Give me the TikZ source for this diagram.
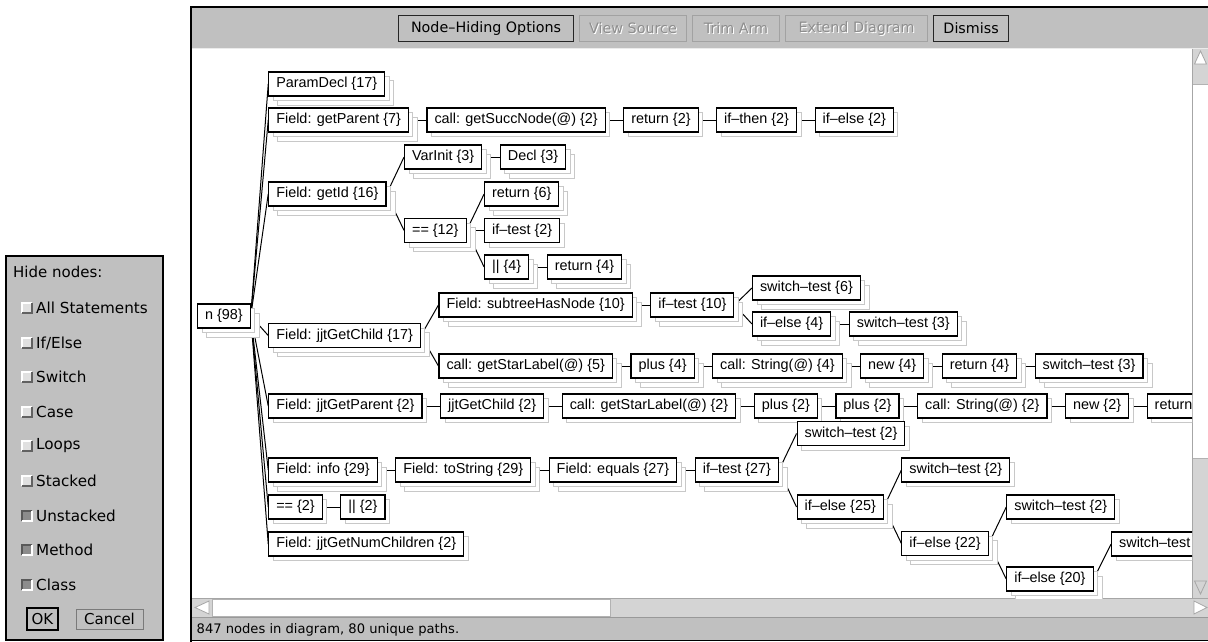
\documentclass[tikz,border=0pt]{standalone}
\usepackage{fontspec}
\setmainfont{DejaVu Sans}
\newfontfamily\treefont{Liberation Sans}
\newfontfamily\uifont{DejaVu Sans}
\usetikzlibrary{shadows,calc}

\definecolor{panelgray}{HTML}{C0C0C0}
\definecolor{trough}{HTML}{D4D4D4}
\definecolor{ghost}{HTML}{C8C8C8}
\definecolor{dimtext}{HTML}{8E8E8E}
\definecolor{edgedark}{HTML}{7A7A7A}
\definecolor{checkfill}{HTML}{8C8C8C}

\pgfdeclarelayer{back}
\pgfdeclarelayer{wires}
\pgfsetlayers{back,wires,main}

\tikzset{
  x=1pt, y=-1pt,
  treebox/.style={draw=black, line width=1.1pt, fill=white,
    font=\treefont\fontsize{14.4}{17}\selectfont,
    inner xsep=7.5pt, inner ysep=0pt, minimum height=24pt,
    text height=10.6pt, text depth=3.3pt, anchor=west},
  ghostcopy/.style={copy shadow={shadow xshift=#1, shadow yshift=-#1,
    draw=ghost, fill=white, line width=1pt}},
  pileone/.style={treebox, ghostcopy=4.5pt},
  piletwo/.style={treebox, ghostcopy=9pt, ghostcopy=4.5pt},
  wire/.style={draw=black, line width=1pt},
  uitext/.style={font=\uifont\fontsize{#1}{#1}\selectfont, inner sep=0pt},
  btnon/.style={draw=black!85, line width=1.2pt, fill=panelgray,
    uitext=14.3, anchor=north west, minimum height=26pt, text=black},
  btnoff/.style={draw=edgedark!70, line width=1pt, fill=panelgray,
    anchor=north west, minimum height=26pt},
  optlabel/.style={uitext=15.2, anchor=west, text=black},
}

% child node placed 17.5pt right of its parent's east side, at height #4
\newcommand\kid[5]{\path let \p1=(#3.east) in node[#1] (#2) at (\x1+17.5pt,-#4pt) {#5};}

% a greyed-out toolbar button with engraved label: name, left x, width, label
\newcommand\offbutton[4]{%
  \node[btnoff, minimum width=#3pt] (#1) at (#2,15) {};
  \node[uitext=14.3, text=white] (#1-lift) at ([shift={(1,1)}]#1.center) {#4};
  \node[uitext=14.3, text=dimtext] (#1-text) at (#1.center) {#4};
}

% one option row of the hiding panel: name, y, label, checked flag
\newcommand\optrow[4]{%
  \ifnum#4=1
    \fill[checkfill] (22,#2-5) rectangle (32,#2+5);
    \draw[black!65, line width=1.2pt] (22,#2+5) -- (22,#2-5) -- (32,#2-5);
    \draw[white, line width=1.2pt] (32,#2-5) -- (32,#2+5) -- (22,#2+5);
  \else
    \fill[black!12] (22,#2-5) rectangle (32,#2+5);
    \draw[white, line width=1.2pt] (22,#2+5) -- (22,#2-5) -- (32,#2-5);
    \draw[black!62, line width=1.6pt] (32,#2-5) -- (32,#2+5) -- (22,#2+5);
  \fi
  \node[optlabel] (#1) at (36,#2) {#3};
}

\begin{document}
\begin{tikzpicture}
\useasboundingbox (0,0) rectangle (1208,642);

% ---------- window chrome ----------
\begin{pgfonlayer}{back}
  \fill[white] (0,0) rectangle (1208,642);
  % toolbar, canvas, status bar
  \fill[panelgray] (191,8) rectangle (1208,48);
  \draw[black!8, line width=1pt] (191,48.5) -- (1208,48.5);
  \fill[white] (191,49) rectangle (1192,598);
  \fill[panelgray] (191,617) rectangle (1208,641);
  % vertical scrollbar
  \fill[trough] (1192,49) rectangle (1208,598);
  \draw[black!35, line width=1pt] (1192.5,49) -- (1192.5,598);
  \fill[white] (1193,84) rectangle (1208,458);
  \draw[black!30, line width=0.8pt] (1193,84) -- (1208,84) (1193,458) -- (1208,458);
  \draw[black!35, fill=white, line width=0.8pt] (1194.5,64) -- (1200.5,51) -- (1206.5,64) -- cycle;
  \draw[black!35, fill=trough, line width=0.8pt] (1194.5,581) -- (1200.5,594) -- (1206.5,581) -- cycle;
  % horizontal scrollbar
  \fill[trough] (191,598) rectangle (1208,617);
  \draw[black!35, line width=1pt] (191,598.5) -- (1208,598.5);
  \draw[black!30, fill=white, line width=0.8pt] (212,599) rectangle (610,616);
  \draw[black!35, fill=white, line width=0.8pt] (209,601) -- (195,607.5) -- (209,614) -- cycle;
  \draw[black!35, fill=white, line width=0.8pt] (1194,601) -- (1207,607.5) -- (1194,614) -- cycle;
  \draw[black!40, line width=1pt] (191,617.5) -- (1208,617.5);
  % outer frame
  \draw[black, line width=2pt] (191,642) -- (191,7) -- (1208,7);
  \draw[black, line width=1.5pt] (191,640.5) -- (1208,640.5);
\end{pgfonlayer}

% ---------- toolbar buttons ----------
\node[btnon, minimum width=175pt] (hideopts) at (398,15) {Node–Hiding Options};
\offbutton{viewsrc}{579}{107}{View Source}
\offbutton{trimarm}{692}{87}{Trim Arm}
\offbutton{extend}{785}{142}{Extend Diagram}
\node[btnon, minimum width=75pt] (dismiss) at (933,15) {Dismiss};

% ---------- status line ----------
\node[uitext=13.1, anchor=west] (status) at (196.5,630) {847 nodes in diagram, 80 unique paths.};

% ---------- node-hiding panel ----------
\draw[black, line width=1.6pt, fill=panelgray] (5.8,255.8) rectangle (163,640);
\node[uitext=15, anchor=west] (hidehead) at (13,272) {Hide nodes:};
\optrow{optall}{308}{All Statements}{0}
\optrow{optif}{343}{If/Else}{0}
\optrow{optsw}{377}{Switch}{0}
\optrow{optcase}{412}{Case}{0}
\optrow{optloop}{446}{Loops}{0}
\optrow{optstk}{481}{Stacked}{0}
\optrow{optunstk}{516}{Unstacked}{1}
\optrow{optmeth}{550}{Method}{1}
\optrow{optclass}{585}{Class}{1}
\node[draw=black, line width=1.3pt, fill=panelgray, uitext=15, minimum width=31pt, minimum height=22pt] (okbtn) at (42.5,619) {OK};
\node[draw=edgedark, line width=1pt, fill=panelgray, uitext=15, minimum width=67pt, minimum height=20pt] (cancelbtn) at (109.5,619) {Cancel};

% ---------- path tree ----------
\begin{scope}
\clip (192,49) rectangle (1192,598);
\node[piletwo] (n) at (197,316) {n \{98\}};
\kid{piletwo}{pd}{n}{84}{ParamDecl \{17\}}
\kid{piletwo}{gp}{n}{120}{Field: getParent \{7\}}
\kid{piletwo}{gi}{n}{194}{Field: getId \{16\}}
\kid{piletwo}{gc}{n}{335.5}{Field: jjtGetChild \{17\}}
\kid{pileone}{jp}{n}{406}{Field: jjtGetParent \{2\}}
\kid{piletwo}{fi}{n}{470}{Field: info \{29\}}
\kid{pileone}{eq}{n}{507}{== \{2\}}
\kid{pileone}{nc}{n}{544}{Field: jjtGetNumChildren \{2\}}
% getParent arm
\kid{pileone}{gsn}{gp}{120}{call: getSuccNode(@) \{2\}}
\kid{pileone}{rta}{gsn}{120}{return \{2\}}
\kid{pileone}{ith}{rta}{120}{if–then \{2\}}
\kid{pileone}{iel}{ith}{120}{if–else \{2\}}
% getId arm
\kid{piletwo}{vi}{gi}{157}{VarInit \{3\}}
\kid{piletwo}{dc}{vi}{157}{Decl \{3\}}
\kid{piletwo}{eqb}{gi}{230.5}{== \{12\}}
\kid{piletwo}{rtb}{eqb}{194}{return \{6\}}
\kid{pileone}{itb}{eqb}{230.5}{if–test \{2\}}
\kid{piletwo}{orb}{eqb}{267}{\textbar\textbar\ \{4\}}
\kid{piletwo}{rtc}{orb}{267}{return \{4\}}
% jjtGetChild arm
\kid{piletwo}{sh}{gc}{305}{Field: subtreeHasNode \{10\}}
\kid{piletwo}{itc}{sh}{305}{if–test \{10\}}
\kid{piletwo}{swa}{itc}{288}{switch–test \{6\}}
\kid{piletwo}{iea}{itc}{324}{if–else \{4\}}
\kid{piletwo}{swb}{iea}{324}{switch–test \{3\}}
\kid{piletwo}{gsa}{gc}{366}{call: getStarLabel(@) \{5\}}
\kid{piletwo}{pla}{gsa}{366}{plus \{4\}}
\kid{piletwo}{csa}{pla}{366}{call: String(@) \{4\}}
\kid{piletwo}{nwa}{csa}{366}{new \{4\}}
\kid{piletwo}{rtd}{nwa}{366}{return \{4\}}
\kid{piletwo}{swc}{rtd}{366}{switch–test \{3\}}
% jjtGetParent arm
\kid{pileone}{jc}{jp}{406}{jjtGetChild \{2\}}
\kid{pileone}{gsb}{jc}{406}{call: getStarLabel(@) \{2\}}
\kid{pileone}{plb}{gsb}{406}{plus \{2\}}
\kid{pileone}{plc}{plb}{406}{plus \{2\}}
\kid{pileone}{csb}{plc}{406}{call: String(@) \{2\}}
\kid{pileone}{nwb}{csb}{406}{new \{2\}}
\kid{pileone, minimum width=80pt, align=left, text width=65pt}{rte}{nwb}{406}{return}
% info arm
\kid{piletwo}{ts}{fi}{470}{Field: toString \{29\}}
\kid{piletwo}{fe}{ts}{470}{Field: equals \{27\}}
\kid{piletwo}{itd}{fe}{470}{if–test \{27\}}
\kid{pileone}{swd}{itd}{433.5}{switch–test \{2\}}
\kid{piletwo}{ieb}{itd}{507}{if–else \{25\}}
\kid{pileone}{swe}{ieb}{470}{switch–test \{2\}}
\kid{piletwo}{iec}{ieb}{543.5}{if–else \{22\}}
\kid{pileone}{swf}{iec}{507}{switch–test \{2\}}
\kid{piletwo}{ied}{iec}{579}{if–else \{20\}}
\kid{pileone, align=left, text width=95pt}{swg}{ied}{544}{switch–test}
% == arm
\kid{pileone}{orc}{eq}{507}{\textbar\textbar\ \{2\}}
\end{scope}

% ---------- connectors ----------
\begin{pgfonlayer}{wires}
\begin{scope}
\clip (192,49) rectangle (1192,598);
\foreach \a/\b in {n/pd, n/gp, n/gi, n/gc, n/jp, n/fi, n/eq, n/nc,
    gp/gsn, gsn/rta, rta/ith, ith/iel,
    gi/vi, vi/dc, gi/eqb, eqb/rtb, eqb/itb, eqb/orb, orb/rtc,
    gc/sh, sh/itc, itc/swa, itc/iea, iea/swb,
    gc/gsa, gsa/pla, pla/csa, csa/nwa, nwa/rtd, rtd/swc,
    jp/jc, jc/gsb, gsb/plb, plb/plc, plc/csb, csb/nwb, nwb/rte,
    fi/ts, ts/fe, fe/itd, itd/swd, itd/ieb, ieb/swe, ieb/iec,
    iec/swf, iec/ied, ied/swg, eq/orc}
  \draw[wire] (\a.east) -- (\b.west);
\end{scope}
\end{pgfonlayer}
\end{tikzpicture}
\end{document}
